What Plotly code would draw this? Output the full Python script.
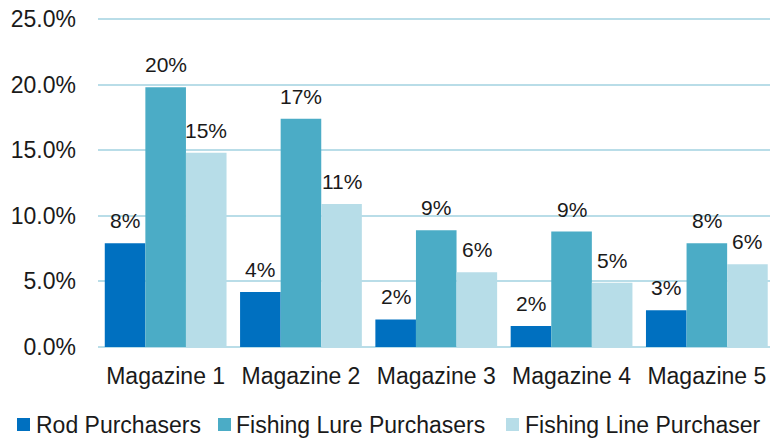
import plotly.graph_objects as go

categories = ["Magazine 1", "Magazine 2", "Magazine 3", "Magazine 4", "Magazine 5"]
series_names = ["Rod Purchasers", "Fishing Lure Purchasers", "Fishing Line Purchaser"]
rod = [0.079, 0.042, 0.021, 0.016, 0.028]
lure = [0.198, 0.174, 0.089, 0.088, 0.079]
line = [0.148, 0.109, 0.057, 0.049, 0.063]
y_ticks = [0.0, 0.05, 0.10, 0.15, 0.20, 0.25]

colors = ["#0070C0", "#4BACC6", "#B7DDE8"]
series = [rod, lure, line]

FONT = "Liberation Sans, Arial"

W, H = 770, 438
ML, MR, MT, MB = 98, 0, 16, 91
PW, PH = W - ML - MR, H - MT - MB
CAT_PX = 135.3  # the reference's plot area runs a little past the right edge


def px_x(px):
    return (px - ML) / PW


def px_y(py):
    return (H - MB - py) / PH


fig = go.Figure()
for name, vals, col in zip(series_names, series, colors):
    fig.add_trace(go.Bar(
        x=categories, y=vals, name=name, marker_color=col,
        marker_line_width=0, showlegend=False,
    ))

# data labels above bars
bar_px = CAT_PX * 0.9 / 3
offsets = [-bar_px, 0, bar_px]
for vals, dx in zip(series, offsets):
    for c, v in zip(categories, vals):
        fig.add_annotation(
            x=c, y=v, text=f"{v*100:.0f}%", showarrow=False,
            xshift=dx, yshift=9, yanchor="bottom",
            font=dict(family=FONT, size=21, color="#1a1a1a"),
        )

# custom legend (swatch + text) laid out like the reference
legend_swatch_px = [17, 218, 506]
legend_text_px = [34, 234, 523]
for name, col, sx, tx in zip(series_names, colors, legend_swatch_px, legend_text_px):
    fig.add_shape(
        type="rect", xref="paper", yref="paper",
        x0=px_x(sx), x1=px_x(sx + 13), y0=px_y(431), y1=px_y(418),
        fillcolor=col, line_width=0,
    )
    fig.add_annotation(
        xref="paper", yref="paper", x=px_x(tx), y=px_y(425),
        xanchor="left", yanchor="middle", showarrow=False, text=name,
        font=dict(family=FONT, size=23, color="#1a1a1a"),
    )

fig.update_layout(
    width=W, height=H,
    margin=dict(l=ML, r=MR, t=MT, b=MB, autoexpand=False),
    paper_bgcolor="white", plot_bgcolor="white",
    barmode="group", bargap=0.1, bargroupgap=0,
    font=dict(family=FONT, color="#1a1a1a"),
    showlegend=False,
)
fig.update_xaxes(
    range=[-0.5, -0.5 + PW / CAT_PX],
    tickfont=dict(size=23), showgrid=False, showline=False, ticks="",
    ticklabelstandoff=13, ticklabeloverflow="allow",
)
fig.update_yaxes(
    range=[0, 0.2523], tickvals=y_ticks, tickformat=".1%",
    tickfont=dict(size=23), showgrid=True, gridcolor="#B9DDE8", gridwidth=2,
    zeroline=True, zerolinecolor="#B9DDE8", zerolinewidth=2,
    showline=False, ticks="", ticklabelstandoff=21, ticklabeloverflow="allow",
)

# remove the browser's default page margin so the figure fills the window
fig.write_html(
    "out.html",
    config={"displayModeBar": False},
    post_script="document.body.style.margin='0';document.body.style.overflow='hidden';",
)
